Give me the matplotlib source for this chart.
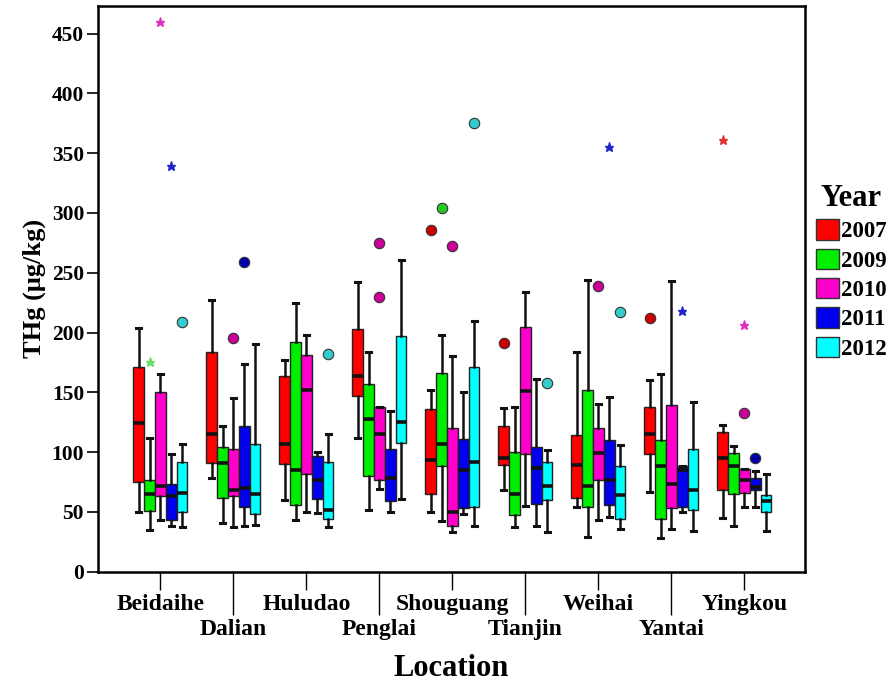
import numpy as np
import matplotlib
matplotlib.use('Agg')
import matplotlib.pyplot as plt
from matplotlib.patches import Patch

plt.rcParams['font.family'] = 'Liberation Serif'
plt.rcParams['font.weight'] = 'bold'
plt.rcParams['axes.labelweight'] = 'bold'

locations = ['Beidaihe', 'Dalian', 'Huludao', 'Penglai', 'Shouguang',
             'Tianjin', 'Weihai', 'Yantai', 'Yingkou']
years = ['2007', '2009', '2010', '2011', '2012']

# whisker low, Q1, median, Q3, whisker high for each location
box_2007 = [(50, 75, 124, 171, 204), (78, 91, 115, 184, 227), (60, 90, 107, 164, 177),
            (112, 147, 164, 203, 242), (50, 65, 93, 136, 152), (68, 89, 95, 122, 137),
            (54, 62, 89, 114, 184), (67, 98, 115, 138, 160), (45, 68, 95, 117, 123)]
box_2009 = [(35, 51, 65, 77, 112), (41, 62, 91, 104, 122), (43, 56, 85, 192, 225),
            (52, 80, 128, 157, 184), (42, 88, 107, 166, 198), (37, 47, 65, 100, 138),
            (29, 54, 72, 152, 244), (28, 44, 88, 110, 165), (38, 65, 88, 99, 105)]
box_2010 = [(43, 63, 72, 150, 165), (37, 63, 68, 103, 145), (50, 82, 152, 181, 198),
            (69, 77, 115, 138, 138), (33, 38, 50, 120, 180), (55, 98, 151, 205, 234),
            (43, 77, 99, 120, 140), (36, 53, 73, 139, 243), (54, 66, 77, 86, 86)]
box_2011 = [(38, 43, 63, 73, 98), (38, 54, 70, 122, 174), (49, 61, 77, 97, 100),
            (50, 59, 78, 103, 134), (48, 53, 85, 111, 150), (38, 57, 87, 104, 161),
            (46, 56, 77, 110, 146), (50, 54, 85, 88, 88), (54, 68, 71, 78, 84)]
box_2012 = [(37, 50, 66, 92, 107), (39, 48, 65, 107, 190), (37, 44, 52, 92, 115),
            (61, 108, 125, 197, 261), (38, 54, 92, 171, 210), (33, 60, 72, 92, 102),
            (36, 44, 64, 88, 106), (34, 52, 68, 103, 142), (34, 50, 59, 64, 82)]

# outliers: (location index, year index, value)
circle_outliers = [(0, 4, 209), (1, 2, 195), (1, 3, 259), (2, 4, 182), (3, 2, 230),
                   (3, 2, 275), (4, 0, 286), (4, 1, 304), (4, 2, 272), (4, 4, 375),
                   (5, 0, 191), (5, 4, 158), (6, 2, 239), (6, 4, 217), (7, 0, 212),
                   (8, 2, 133), (8, 3, 95)]
star_outliers = [(0, 1, 175), (0, 2, 460), (0, 3, 339), (6, 3, 355), (7, 3, 218),
                 (8, 0, 361), (8, 2, 206)]

box_colors = ['#FF0000', '#00EE00', '#FF00CC', '#0000EE', '#00FFFF']
circle_colors = ['#CC0000', '#22CC22', '#CC0099', '#0000AA', '#33CCCC']
star_colors = ['#DD3333', '#66DD66', '#E030C0', '#2222CC', '#33BBBB']

all_boxes = [box_2007, box_2009, box_2010, box_2011, box_2012]
width = 0.148

fig = plt.figure(figsize=(8.95, 6.86), dpi=100)
ax = fig.add_axes([98 / 895, 1 - 571.7 / 686, 707 / 895, 565.7 / 686])

for j, boxes in enumerate(all_boxes):
    stats = []
    for lo, q1, med, q3, hi in boxes:
        stats.append({'whislo': lo, 'q1': q1, 'med': med, 'q3': q3, 'whishi': hi, 'fliers': []})
    pos = np.arange(len(locations)) + (j - 2) * width
    ax.bxp(stats, positions=pos, widths=width, patch_artist=True, showfliers=False,
           capwidths=0.07,
           boxprops=dict(facecolor=box_colors[j], edgecolor='#222222', linewidth=1.0),
           medianprops=dict(color='#111111', linewidth=2.6),
           whiskerprops=dict(color='#111111', linewidth=1.8),
           capprops=dict(color='#111111', linewidth=2.2))

for loc, yr, val in circle_outliers:
    ax.plot(loc + (yr - 2) * width, val, 'o', ms=7.5, mfc=circle_colors[yr],
            mec='#333333', mew=0.8)
for loc, yr, val in star_outliers:
    ax.plot(loc + (yr - 2) * width, val, '*', ms=6.5, color=star_colors[yr])

ax.set_xlim(-0.856, 8.829)
ax.set_ylim(0, 473)
ax.set_yticks(np.arange(0, 451, 50))
ax.tick_params(axis='y', labelsize=15.5, length=8, width=1.2, pad=2)

ax.set_xticks(np.arange(0, 9, 2))
ax.set_xticklabels(locations[0::2])
ax.set_xticks(np.arange(1, 9, 2), minor=True)
ax.set_xticklabels(locations[1::2], minor=True)
ax.tick_params(axis='x', which='major', labelsize=17, length=13, width=1.0, pad=3)
ax.tick_params(axis='x', which='minor', labelsize=17, length=31, width=1.0, pad=3)

for sp in ax.spines.values():
    sp.set_linewidth(1.8)

ax.set_ylabel('THg (μg/kg)', fontsize=19, labelpad=4)
ax.set_xlabel('Location', fontsize=22, labelpad=10)

handles = [Patch(facecolor=c, edgecolor='#333333', linewidth=1.0) for c in box_colors]
leg = fig.legend(handles, years, loc='upper left', bbox_to_anchor=(807 / 895, 1 - 175 / 686),
                 frameon=False, fontsize=16.5, title='Year', handlelength=1.0,
                 handleheight=1.0, handletextpad=0.08, labelspacing=0.27, borderpad=0.2,
                 borderaxespad=0.2)
leg.get_title().set_fontsize(22)
leg.get_title().set_fontweight('bold')

fig.savefig('out.png', dpi=100)
